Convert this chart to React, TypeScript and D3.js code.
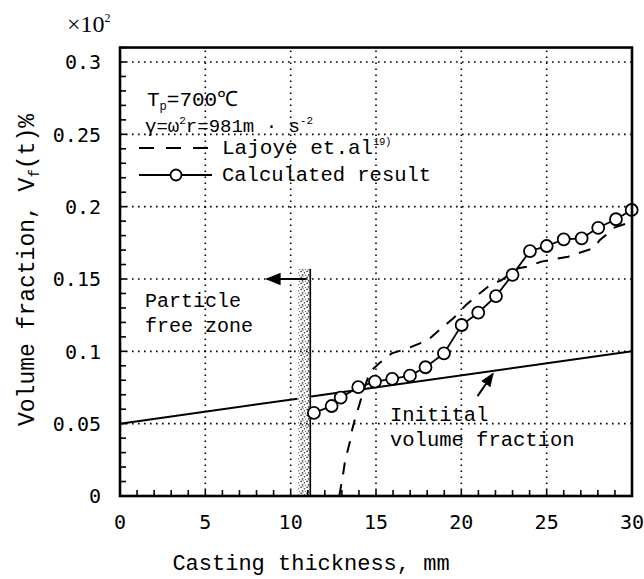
import React from "react";
import * as d3 from "d3";

const W = 644;
const H = 579;

// axis values
const xTicks = [0, 5, 10, 15, 20, 25, 30];
const yTicks = [0, 0.05, 0.1, 0.15, 0.2, 0.25, 0.3];
const yTickLabels = ["0", "0.05", "0.1", "0.15", "0.2", "0.25", "0.3"];
const xGrid = [5, 10, 15, 20, 25];
const yGrid = [0.05, 0.1, 0.15, 0.2, 0.25, 0.3];

// Calculated result (circles)
const calcX = [11.36, 12.4, 12.93, 13.96, 14.94, 15.95, 16.99, 17.9, 18.98, 20.02, 20.99, 22.03, 23.0, 24.02, 25.0, 26.0, 27.05, 28.02, 29.06, 29.98];
const calcY = [0.0574, 0.0622, 0.068, 0.0752, 0.0791, 0.081, 0.0832, 0.089, 0.0986, 0.1182, 0.1267, 0.1382, 0.1529, 0.1693, 0.1728, 0.1774, 0.1781, 0.1854, 0.1913, 0.1977];

// Lajoye et.al (dashed)
const lajX = [12.85, 13.08, 13.18, 13.47, 13.6, 13.8, 13.96, 14.3, 14.65, 15.19, 15.92, 16.7, 17.57, 18.16, 18.94, 19.53, 20.27, 20.8, 21.68, 22.36, 23.33, 23.83, 24.7, 25.38, 26.26, 26.85, 27.73, 28.12, 29.0, 29.6];
const lajY = [0.0, 0.0157, 0.0237, 0.0375, 0.0456, 0.0546, 0.0606, 0.074, 0.0859, 0.0917, 0.0986, 0.1014, 0.1055, 0.109, 0.117, 0.1228, 0.132, 0.1373, 0.1458, 0.1493, 0.1574, 0.1585, 0.162, 0.1636, 0.1654, 0.1678, 0.1712, 0.177, 0.1857, 0.188];

// Initial volume fraction (two segments, interrupted by particle free zone)
const initSeg1X = [0, 10.4];
const initSeg1Y = [0.05, 0.0673];
const initSeg2X = [11.2, 30];
const initSeg2Y = [0.0687, 0.1];

// Particle free zone band
const bandX = [10.45, 11.2];
const bandTop = 0.157;
const bandEdgeX = 11.15;

export default function App() {
  const x = d3.scaleLinear().domain([0, 30]).range([120, 632]);
  const y = d3.scaleLinear().domain([0, 0.3]).range([496, 62]);
  const yTopFrame = y(0.31);

  const line = d3
    .line<[number, number]>()
    .x((d) => x(d[0]))
    .y((d) => y(d[1]));

  const calcPts: [number, number][] = calcX.map((v, i) => [v, calcY[i]]);
  const lajPts: [number, number][] = lajX.map((v, i) => [v, lajY[i]]);
  const seg1: [number, number][] = initSeg1X.map((v, i) => [v, initSeg1Y[i]]);
  const seg2: [number, number][] = initSeg2X.map((v, i) => [v, initSeg2Y[i]]);

  const yMinor = d3.range(0, 32).map((i) => i * 0.01);
  const xMinor = d3.range(0, 31);

  const mono = "'Liberation Mono', 'DejaVu Sans Mono', monospace";
  const tickFont = "'DejaVu Sans Mono', monospace";

  return (
    <svg width={W} height={H} viewBox={`0 0 ${W} ${H}`} style={{ position: "absolute", left: 0, top: 0, background: "#fff" }}>
      <defs>
        <pattern id="stip" width="6" height="6" patternUnits="userSpaceOnUse">
          <rect x="0.4" y="0.7" width="1.4" height="1.4" fill="#222" />
          <rect x="3.8" y="2.2" width="1.3" height="1.3" fill="#333" />
          <rect x="1.8" y="4.2" width="1.4" height="1.4" fill="#222" />
          <rect x="4.9" y="4.9" width="1" height="1" fill="#444" />
          <rect x="2.6" y="0.1" width="1" height="1" fill="#555" />
        </pattern>
        <marker id="ah" viewBox="0 0 10 10" refX="9" refY="5" markerWidth="7" markerHeight="7" orient="auto-start-reverse">
          <path d="M0,1 L10,5 L0,9 z" fill="#000" />
        </marker>
      </defs>

      {/* grid */}
      <g stroke="#000" strokeWidth={1.6} strokeDasharray="1.6 4.4">
        {xGrid.map((v) => (
          <line key={"gx" + v} x1={x(v)} x2={x(v)} y1={y(0)} y2={yTopFrame} />
        ))}
        {yGrid.map((v) => (
          <line key={"gy" + v} x1={x(0)} x2={x(30)} y1={y(v)} y2={y(v)} />
        ))}
      </g>

      {/* particle free zone */}
      <rect x={x(bandX[0])} y={y(bandTop)} width={x(bandX[1]) - x(bandX[0])} height={y(0) - y(bandTop)} fill="url(#stip)" />
      <line x1={x(bandEdgeX)} x2={x(bandEdgeX)} y1={y(0)} y2={y(bandTop)} stroke="#000" strokeWidth={1.6} />

      {/* initial volume fraction */}
      <path d={line(seg1) || ""} fill="none" stroke="#000" strokeWidth={2} />
      <path d={line(seg2) || ""} fill="none" stroke="#000" strokeWidth={2} />

      {/* Lajoye dashed */}
      <path d={line(lajPts) || ""} fill="none" stroke="#000" strokeWidth={2} strokeDasharray="12 10" />

      {/* calculated */}
      <path d={line(calcPts) || ""} fill="none" stroke="#000" strokeWidth={1.8} />
      {calcPts.map((p, i) => (
        <circle key={"c" + i} cx={x(p[0])} cy={y(p[1])} r={6} fill="#fff" stroke="#000" strokeWidth={1.8} />
      ))}

      {/* frame */}
      <rect x={x(0)} y={yTopFrame} width={x(30) - x(0)} height={y(0) - yTopFrame} fill="none" stroke="#000" strokeWidth={2.6} />

      {/* minor ticks */}
      <g stroke="#000" strokeWidth={1.6}>
        {yMinor.map((v, i) => (
          <line key={"ty" + i} x1={x(0)} x2={x(0) + 6} y1={y(v)} y2={y(v)} />
        ))}
        {xMinor.map((v) => (
          <line key={"tx" + v} x1={x(v)} x2={x(v)} y1={y(0)} y2={y(0) - 6} />
        ))}
      </g>

      {/* tick labels */}
      <g fontFamily={tickFont} fontSize={20} fill="#000">
        {yTicks.map((v, i) => (
          <text key={"ly" + v} x={101} y={y(v)} dy="0.36em" textAnchor="end">
            {yTickLabels[i]}
          </text>
        ))}
        {xTicks.map((v) => (
          <text key={"lx" + v} x={x(v)} y={522} dy="0.36em" textAnchor="middle">
            {v}
          </text>
        ))}
      </g>

      {/* axis titles */}
      <text x={311} y={570} textAnchor="middle" fontFamily={mono} fontSize={22} fill="#000">
        Casting thickness, mm
      </text>
      <text transform="translate(34,270) rotate(-90)" textAnchor="middle" fontFamily={mono} fontSize={23} fill="#000">
        Volume fraction, V<tspan fontSize={14} dy={5}>f</tspan>
        <tspan dy={-5}>(t)%</tspan>
      </text>

      {/* multiplier */}
      <text x={67} y={32} fontFamily="'Liberation Serif', serif" fontSize={24} fill="#000">
        ×10<tspan fontSize={12} dy={-10}>2</tspan>
      </text>

      {/* annotations */}
      <g fontFamily={mono} fill="#000">
        <text x={147} y={106} fontSize={21}>
          T<tspan fontSize={12} dy={4}>p</tspan>
          <tspan dy={-4}>=700℃</tspan>
        </text>
        <text x={145} y={132} fontSize={19}>
          γ=ω<tspan fontSize={11} dy={-8}>2</tspan>
          <tspan dy={8}>r=981m · s</tspan>
          <tspan fontSize={11} dy={-8}>-2</tspan>
        </text>
        <text x={222} y={154} fontSize={21}>
          Lajoye et.al<tspan fontSize={10} dy={-9}>19)</tspan>
        </text>
        <text x={222} y={181} fontSize={20.5}>
          Calculated result
        </text>
        <text x={145} y={307} fontSize={20}>
          Particle
        </text>
        <text x={145} y={332} fontSize={20}>
          free zone
        </text>
        <text x={390} y={421} fontSize={20.5}>
          Initital
        </text>
        <text x={390} y={446} fontSize={20.5}>
          volume fraction
        </text>
      </g>

      {/* legend samples */}
      <line x1={139} x2={212} y1={148} y2={148} stroke="#000" strokeWidth={2} strokeDasharray="15 12" />
      <line x1={139} x2={212} y1={175} y2={175} stroke="#000" strokeWidth={1.8} />
      <circle cx={176} cy={175} r={5.5} fill="#fff" stroke="#000" strokeWidth={1.8} />

      {/* arrows */}
      <line x1={x(10.9)} x2={x(8.6)} y1={y(0.15)} y2={y(0.15)} stroke="#000" strokeWidth={2.2} markerEnd="url(#ah)" />
      <line x1={x(20.95)} x2={x(21.85)} y1={y(0.069)} y2={y(0.0845)} stroke="#000" strokeWidth={2} markerEnd="url(#ah)" />
    </svg>
  );
}
